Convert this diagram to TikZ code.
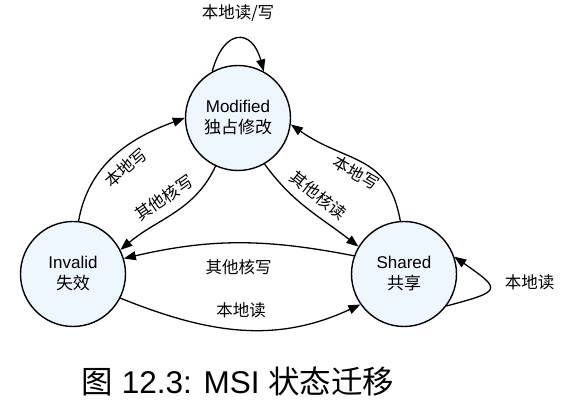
\documentclass[tikz,border=0pt]{standalone}
\usepackage{fontspec}
\setmainfont{Liberation Sans}
\newfontfamily\cjk{Noto Sans CJK SC}
\usetikzlibrary{arrows.meta,positioning}

\begin{document}
\begin{tikzpicture}[x=1pt,y=1pt,
  state/.style={circle,draw,line width=1.4pt,fill={rgb,255:red,238;green,246;blue,255},minimum size=105pt,inner sep=0pt,align=center,font=\fontsize{17}{21}\selectfont},
  trans/.style={line width=1.3pt,-{Triangle[length=12pt,width=9pt]}},
  lbl/.style={font=\cjk\fontsize{16.5}{18}\selectfont,inner sep=2pt}]
  \useasboundingbox (0,0) rectangle (576,401);

  %Shape: Circle
  \node[state] (modified) at (238,283) {Modified\\{\cjk 独占修改}};
  %Shape: Circle
  \node[state] (invalid) at (73,127) {Invalid\\{\cjk 失效}};
  %Shape: Circle
  \node[state] (shared) at (404,127) {Shared\\{\cjk 共享}};

  %Curve Lines
  \draw[trans] (modified.119) .. controls +(75:45) and +(105:45) .. node[lbl,above=15pt] (lrw) {本地读/写} (modified.61);
  %Curve Lines
  \draw[trans] (invalid.84) to[out=80,in=200] node[lbl,sloped,below=6pt] (lw1) {本地写} (modified.180);
  %Curve Lines
  \draw[trans] (modified.245) to[out=245,in=40] node[lbl,sloped,above=8pt] (ow1) {其他核写} (invalid.27);
  %Curve Lines
  \draw[trans] (modified.300) to[out=306,in=142] node[lbl,sloped,above=7pt] (or1) {其他核读} (shared.149);
  %Curve Lines
  \draw[trans] (shared.94) to[out=100,in=325,looseness=1.2] node[lbl,sloped,below=2pt] (lw2) {本地写} (modified.353);
  %Curve Lines
  \draw[trans] (shared.160) to[out=169,in=13] node[lbl,below=14pt] (ow2) {其他核写} (invalid.17);
  %Curve Lines
  \draw[trans] (invalid.333) to[out=-22,in=205] node[lbl,above=9pt] (lr1) {本地读} (shared.215);
  %Curve Lines
  \draw[trans] (shared.323) .. controls +(15:58) and +(325:58) .. node[lbl,right=13pt,yshift=6pt] (lr2) {本地读} (shared.19);

  % Text Node
  \node[font=\fontsize{31.5}{36}\selectfont] (caption) at (238,19) {{\cjk 图} 12.3: MSI {\cjk 状态迁移}};
\end{tikzpicture}
\end{document}
